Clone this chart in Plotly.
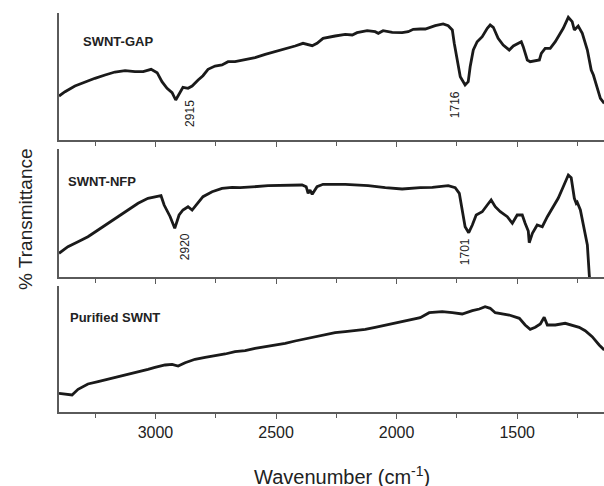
import plotly.graph_objects as go

# ---- data (wavenumber in cm-1, transmittance in arbitrary units) ----
gap_wn = [3400, 3375, 3334, 3292, 3251, 3209, 3168, 3126, 3085, 3051, 3018, 2993, 2973, 2952, 2931,
          2916, 2898, 2886, 2865, 2848, 2823, 2803, 2782, 2753, 2724, 2699, 2670, 2628, 2587, 2545,
          2504, 2462, 2421, 2388, 2350, 2330, 2305, 2255, 2213, 2184, 2164, 2122, 2089, 2076, 2056,
          2018, 1977, 1952, 1931, 1902, 1881, 1840, 1807, 1786, 1769, 1761, 1749, 1736, 1716, 1703,
          1695, 1682, 1666, 1645, 1624, 1612, 1599, 1579, 1558, 1533, 1516, 1483, 1475, 1458, 1446,
          1408, 1400, 1384, 1363, 1342, 1309, 1288, 1272, 1263, 1247, 1230, 1209, 1193, 1184, 1168,
          1155, 1139]
gap_t = [44, 48.3, 54, 58.3, 61.7, 65, 68, 69.3, 68.3, 68.3, 70.7, 67.3, 58.3, 51.7, 47.3,
         40, 48.3, 52.7, 51.7, 54, 60, 64.3, 70.7, 74, 75, 78.3, 78.3, 80, 82.3, 85.7,
         88.3, 91, 94, 96.7, 94.3, 96.7, 101.7, 104, 105.7, 105, 107.3, 109.3, 108.3, 106.7, 109.3,
         107.7, 107.3, 108.3, 110.7, 111, 111, 114.3, 116, 114.3, 110, 96.7, 80, 63.3, 55, 58.3,
         73.3, 90, 98.3, 103.3, 111.7, 115, 112.7, 101.7, 95, 90, 94, 98.3, 93.3, 80, 78.3,
         80, 86.7, 91.7, 91.7, 98.3, 111.7, 122.7, 118.3, 110, 114, 106.7, 90, 70, 65, 51.7,
         41.7, 36.7]

nfp_wn = [3400, 3363, 3321, 3280, 3238, 3197, 3155, 3114, 3072, 3031, 2993, 2977, 2964, 2939, 2920,
          2902, 2886, 2865, 2848, 2827, 2803, 2765, 2724, 2682, 2649, 2533, 2392, 2375, 2367, 2359,
          2350, 2330, 2305, 2213, 2118, 2047, 1977, 1902, 1852, 1786, 1757, 1740, 1728, 1716, 1701,
          1686, 1670, 1645, 1624, 1608, 1591, 1570, 1541, 1520, 1500, 1479, 1467, 1454, 1450, 1437,
          1417, 1396, 1375, 1355, 1330, 1309, 1288, 1276, 1263, 1255, 1251, 1238, 1226, 1209, 1201,
          1197]
nfp_t = [23.7, 30.3, 35.3, 40.3, 47, 53.7, 60.3, 67, 73.7, 78.7, 80.3, 81.3, 72, 60.3, 48.7,
         62, 67, 70.3, 67, 73.7, 80.3, 85.3, 88.7, 89.7, 89.3, 91.3, 92, 90.3, 83.7, 87,
         82.7, 90.3, 92.7, 92.7, 91.3, 89.3, 88, 89.3, 89.7, 91.3, 89.3, 83.7, 68.7, 50.3, 44.3,
         52, 62, 65.3, 72, 77, 70.3, 65.3, 60.3, 53.7, 62, 62, 53.7, 46, 34.3, 43.7,
         52, 50.3, 60.3, 68.7, 78.7, 90.3, 102, 99.3, 78.7, 73.7, 74.7, 67, 52, 32, 2,
         -8]

pur_wn = [3400, 3375, 3346, 3321, 3280, 3238, 3197, 3155, 3114, 3072, 3031, 3002, 2960, 2931, 2906,
          2877, 2836, 2794, 2753, 2711, 2670, 2628, 2587, 2545, 2504, 2462, 2421, 2379, 2338, 2296,
          2255, 2213, 2172, 2130, 2089, 2047, 2006, 1964, 1902, 1865, 1811, 1769, 1728, 1686, 1657,
          1633, 1612, 1591, 1533, 1491, 1467, 1446, 1425, 1404, 1388, 1375, 1342, 1301, 1272, 1243,
          1218, 1189, 1160, 1139]
pur_t = [18.7, 17.7, 17, 22.7, 28, 30.3, 32.7, 34.7, 37.7, 40.3, 42.7, 44.7, 47, 47.7, 46,
         49.3, 52.7, 54.7, 56, 58, 60.3, 61.3, 63.7, 65.3, 67, 68.7, 71, 73, 75.3, 77.7,
         79.3, 80.3, 81.3, 82.7, 84.7, 87, 89.3, 91, 94.3, 99.3, 100.3, 99.3, 98, 101.3, 103,
         105.3, 103.7, 99.3, 97, 93.7, 87, 82.7, 84.7, 88, 94.7, 87, 87, 88.7, 87, 84.7,
         81.3, 75.3, 67, 62]

panel_names = ["SWNT-GAP", "SWNT-NFP", "Purified SWNT"]
peak_labels = [("2915", 1), ("1716", 1), ("2920", 2), ("1701", 2)]
tick_vals = [3000, 2500, 2000, 1500]
tick_text = ["3000", "2500", "2000", "1500"]

X_RANGE = [3400, 1140]
FONT = "Liberation Sans, Arial, sans-serif"
LINE_COLOR = "#1a1a1a"
AX_COLOR = "#5a5a5a"

fig = go.Figure()
series = [(gap_wn, gap_t), (nfp_wn, nfp_t), (pur_wn, pur_t)]
for i, (wn, t) in enumerate(series):
    sfx = "" if i == 0 else str(i + 1)
    fig.add_trace(go.Scatter(x=wn, y=t, mode="lines", xaxis="x" + sfx, yaxis="y" + sfx,
                             line=dict(color=LINE_COLOR, width=2.8),
                             showlegend=False, hoverinfo="skip"))

domains = [[0.6817, 1.0], [0.3383, 0.6591], [0.0, 0.3158]]
yranges = [[0, 127], [0, 128], [0, 126]]

layout = dict(width=604, height=486, margin=dict(l=59, r=0, t=13, b=74, autoexpand=False),
              paper_bgcolor="white", plot_bgcolor="white",
              font=dict(family=FONT, color="#222"))
for i in range(3):
    sfx = "" if i == 0 else str(i + 1)
    layout["xaxis" + sfx] = dict(
        domain=[0, 1], anchor="y" + sfx, range=X_RANGE, showgrid=False, zeroline=False,
        showline=True, linecolor=AX_COLOR, linewidth=1.5,
        ticks="outside", ticklen=5, tickwidth=1, tickcolor=AX_COLOR,
        tickvals=tick_vals, ticktext=tick_text, showticklabels=(i == 2),
        tickfont=dict(size=16, family=FONT, color="#222"),
        minor=dict(dtick=250, tick0=1000, ticks="outside", ticklen=4, tickcolor=AX_COLOR, showgrid=False),
    )
    if i > 0:
        layout["xaxis" + sfx]["matches"] = "x"
    layout["yaxis" + sfx] = dict(
        domain=domains[i], anchor="x" + sfx, range=yranges[i], showgrid=False, zeroline=False,
        showline=True, linecolor=AX_COLOR, linewidth=1.5, ticks="", showticklabels=False,
    )
fig.update_layout(**layout)

ann = []
name_pos = [(3310, 0.772), (3370, 0.745), (3362, 0.752)]
for i, name in enumerate(panel_names):
    sfx = "" if i == 0 else str(i + 1)
    ann.append(dict(text="<b>" + name + "</b>", x=name_pos[i][0], y=name_pos[i][1],
                    xref="x" + sfx, yref="y" + sfx + " domain", xanchor="left", yanchor="middle",
                    showarrow=False, font=dict(size=13, family=FONT, color="#222")))
peak_pos = {"2915": (2857, 0.213), "1716": (1757, 0.276), "2920": (2877, 0.234), "1701": (1718, 0.199)}
for lab, panel in peak_labels:
    sfx = "" if panel == 1 else str(panel)
    ann.append(dict(text=lab, x=peak_pos[lab][0], y=peak_pos[lab][1], textangle=-90,
                    xref="x" + sfx, yref="y" + sfx + " domain", xanchor="center", yanchor="middle",
                    showarrow=False, font=dict(size=12, family=FONT, color="#222")))
ann.append(dict(text="Wavenumber (cm<sup>-1</sup>)", x=0.519, y=-0.158, xref="paper", yref="paper",
                xanchor="center", yanchor="middle", showarrow=False,
                font=dict(size=20, family=FONT, color="#222")))
ann.append(dict(text="% Transmittance", x=-0.0615, y=0.485, xref="paper", yref="paper", textangle=-90,
                xanchor="center", yanchor="middle", showarrow=False,
                font=dict(size=19, family=FONT, color="#222")))
fig.update_layout(annotations=ann)

fig.write_html("out.html", config={"displayModeBar": False},
               post_script="document.body.style.margin='0';document.body.style.overflow='hidden';")
